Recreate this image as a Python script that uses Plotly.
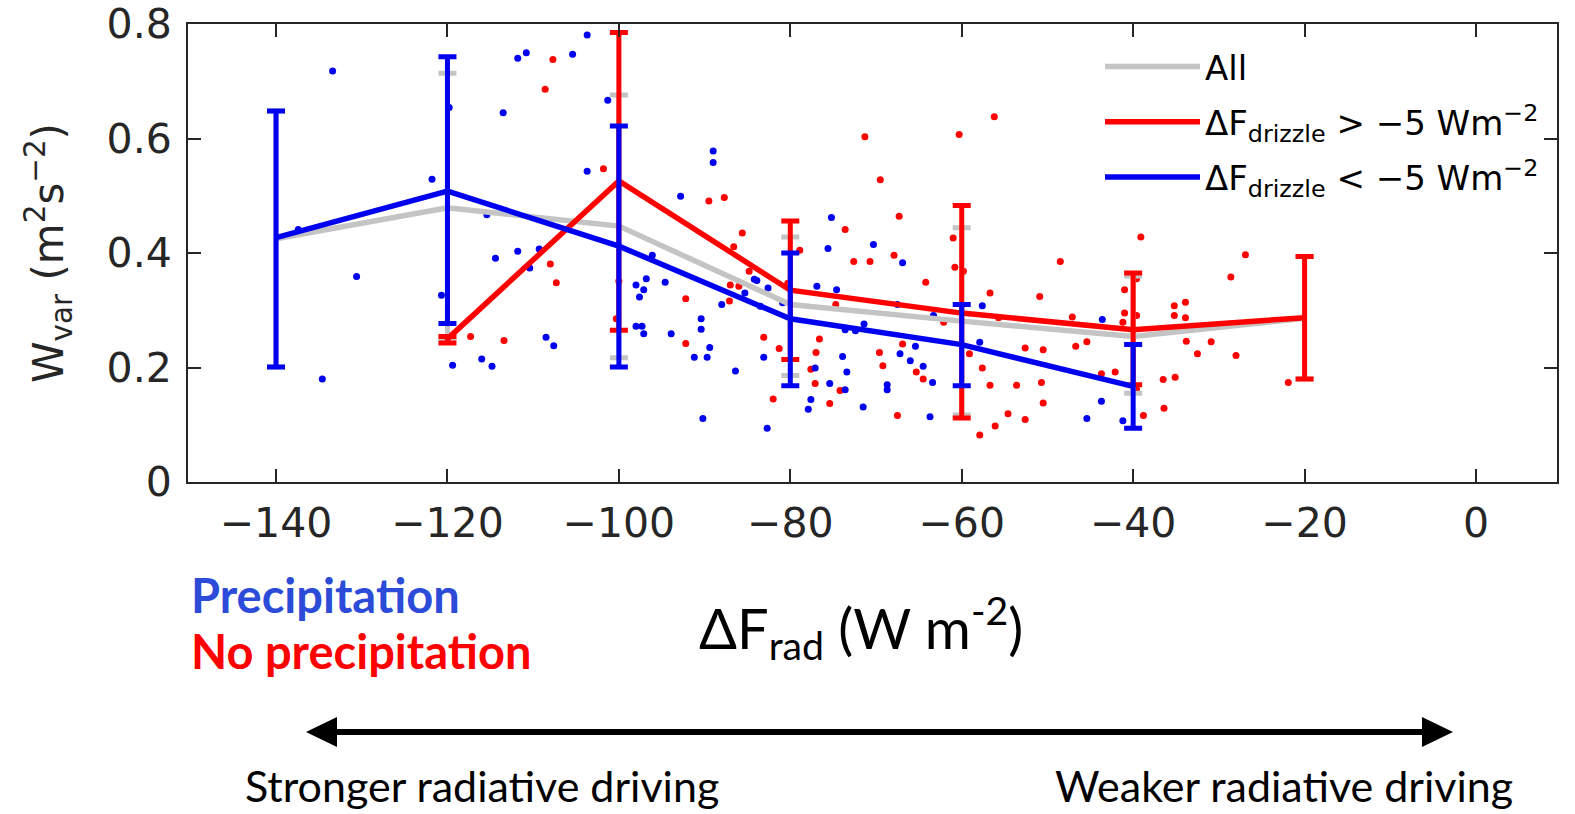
import plotly.graph_objects as go

# binned means and error-bar ends
bin_x = [-140, -120, -100, -80, -60, -40, -20]
all_mean = [0.425, 0.479, 0.447, 0.310, 0.281, 0.254, 0.286]
all_hi = [0.648, 0.714, 0.676, 0.428, 0.444, 0.360, 0.394]
all_lo = [0.201, 0.250, 0.217, 0.186, 0.117, 0.155, 0.180]

red_x = [-120, -100, -80, -60, -40, -20]
red_mean = [0.250, 0.526, 0.335, 0.295, 0.266, 0.287]
red_hi = [0.254, 0.785, 0.456, 0.483, 0.365, 0.394]
red_lo = [0.243, 0.265, 0.214, 0.112, 0.170, 0.180]

blue_x = [-140, -120, -100, -80, -60, -40]
blue_mean = [0.427, 0.508, 0.412, 0.285, 0.240, 0.167]
blue_hi = [0.648, 0.743, 0.622, 0.400, 0.310, 0.240]
blue_lo = [0.201, 0.277, 0.201, 0.168, 0.168, 0.094]

# individual samples
blue_dots_x = [-133.4, -111.8, -110.8, -105.4, -103.7, -113.5, -101.3, -119.8, -121.8, -103.7,
               -137.4, -115.4, -114.4, -111.8, -109.3, -110.4, -130.6, -120.7, -108.5, -107.6,
               -116.0, -119.4, -114.8, -134.6,
               -89.0, -89.0, -92.8, -96.1, -96.8, -98.0, -97.1, -97.6, -94.6, -98.0,
               -97.3, -97.1, -93.9, -90.4, -90.4, -89.4, -91.2, -89.7, -86.4, -90.2,
               -83.1, -82.7, -88.0, -85.3, -84.2, -83.9, -82.6, -80.9, -83.5, -76.9,
               -74.6, -75.2, -75.6, -70.3, -66.9, -67.5, -63.3, -57.6, -57.9, -73.6,
               -72.4, -71.4, -77.1, -73.9, -73.4, -73.6, -75.4, -77.6, -77.9, -71.5,
               -68.7, -68.7, -67.2, -66.0, -65.4, -64.5, -63.4, -63.7,
               -43.6, -43.7, -45.4, -41.2]
blue_dots_y = [0.718, 0.740, 0.750, 0.747, 0.781, 0.645, 0.667, 0.654, 0.529, 0.543,
               0.441, 0.467, 0.391, 0.403, 0.407, 0.374, 0.359, 0.326, 0.253, 0.238,
               0.215, 0.204, 0.202, 0.180,
               0.578, 0.558, 0.499, 0.396, 0.355, 0.344, 0.336, 0.323, 0.349, 0.272,
               0.272, 0.259, 0.259, 0.285, 0.267, 0.235, 0.218, 0.218, 0.194, 0.111,
               0.218, 0.094, 0.310, 0.330, 0.354, 0.352, 0.339, 0.313, 0.307, 0.342,
               0.336, 0.462, 0.408, 0.415, 0.383, 0.310, 0.291, 0.308, 0.244, 0.266,
               0.264, 0.276, 0.199, 0.219, 0.192, 0.161, 0.172, 0.144, 0.127, 0.131,
               0.170, 0.161, 0.224, 0.212, 0.237, 0.202, 0.174, 0.114,
               0.284, 0.141, 0.111, 0.107]

red_dots_x = [-107.7, -108.6, -101.8, -108.0, -107.3, -100.0, -100.3, -117.3, -113.4,
              -71.3, -60.3, -56.2, -69.5, -67.3, -73.6, -72.6, -70.7, -67.9, -61.0,
              -60.8, -59.8, -64.2, -56.7, -50.9, -55.7, -62.1, -59.1, -66.9, -69.6,
              -69.2, -65.3, -64.5, -57.6, -56.7, -53.6, -50.7, -50.5, -52.6, -50.5,
              -54.6, -52.6, -56.1, -57.9, -67.5, -75.4, -74.2, -77.1, -77.0, -76.6,
              -77.6, -74.7, -81.3, -83.1, -82.0, -78.9, -80.3, -85.6, -86.6, -87.7,
              -89.5, -84.8, -87.0, -86.0, -87.1, -92.2, -92.2,
              -39.1, -26.9, -48.5, -28.6, -41.0, -39.6, -41.0, -39.6, -41.2, -47.1,
              -35.2, -33.9, -35.2, -33.9, -46.7, -45.4, -33.8, -30.9, -32.5, -28.0,
              -43.7, -42.1, -36.5, -35.1, -39.6, -36.4, -38.8, -21.9]
red_dots_y = [0.738, 0.686, 0.547, 0.381, 0.348, 0.351, 0.285, 0.254, 0.247,
              0.603, 0.607, 0.638, 0.528, 0.464, 0.441, 0.385, 0.385, 0.396, 0.426,
              0.375, 0.368, 0.349, 0.330, 0.324, 0.287, 0.279, 0.224, 0.241, 0.226,
              0.203, 0.192, 0.180, 0.199, 0.169, 0.169, 0.174, 0.138, 0.234, 0.231,
              0.119, 0.109, 0.098, 0.082, 0.116, 0.137, 0.160, 0.172, 0.226, 0.250,
              0.197, 0.310, 0.233, 0.253, 0.145, 0.405, 0.347, 0.435, 0.411, 0.497,
              0.491, 0.368, 0.344, 0.342, 0.316, 0.320, 0.242,
              0.428, 0.397, 0.385, 0.358, 0.336, 0.355, 0.295, 0.291, 0.279, 0.288,
              0.308, 0.314, 0.291, 0.287, 0.237, 0.245, 0.246, 0.245, 0.224, 0.221,
              0.189, 0.192, 0.179, 0.183, 0.161, 0.129, 0.116, 0.174]

x_ticks = [-140, -120, -100, -80, -60, -40, -20, 0]
y_ticks = [0, 0.2, 0.4, 0.6, 0.8]

RED = '#ff0000'
BLUE = '#0000f0'
GREY = '#c4c4c4'
INK = '#262626'


def err(mean, hi, lo):
    return [h - m for m, h in zip(mean, hi)], [m - l for m, l in zip(mean, lo)]


fig = go.Figure()

fig.add_trace(go.Scatter(x=red_dots_x, y=red_dots_y, mode='markers', showlegend=False,
                         marker=dict(color=RED, size=7)))
fig.add_trace(go.Scatter(x=blue_dots_x, y=blue_dots_y, mode='markers', showlegend=False,
                         marker=dict(color=BLUE, size=7)))

for name, xs, mean, hi, lo, col in [
    ('All', bin_x, all_mean, all_hi, all_lo, GREY),
    ('ΔF<sub>drizzle</sub> &gt; −5 Wm<sup>−2</sup>', red_x, red_mean, red_hi, red_lo, RED),
    ('ΔF<sub>drizzle</sub> &lt; −5 Wm<sup>−2</sup>', blue_x, blue_mean, blue_hi, blue_lo, BLUE),
]:
    plus, minus = err(mean, hi, lo)
    fig.add_trace(go.Scatter(
        x=xs, y=mean, mode='lines', name=name, legendgroup=name,
        line=dict(color=col, width=5.5),
        error_y=dict(type='data', array=plus, arrayminus=minus, symmetric=False,
                     color=col, thickness=5, width=9),
    ))

# plot area in pixels
L, R, T, B = 188, 18, 24, 332
W, H = 1575, 814
PW, PH = W - L - R, H - T - B


def px(x):
    return (x - L) / PW


def py(y):
    return (H - B - y) / PH


# double-headed arrow under the chart
ay = 732
shapes = [
    dict(type='line', xref='paper', yref='paper', x0=px(330), x1=px(1428), y0=py(ay), y1=py(ay),
         line=dict(color='black', width=6)),
    dict(type='path', xref='paper', yref='paper', fillcolor='black', line=dict(width=0),
         path=f'M {px(306)} {py(ay)} L {px(337)} {py(ay - 15)} L {px(337)} {py(ay + 15)} Z'),
    dict(type='path', xref='paper', yref='paper', fillcolor='black', line=dict(width=0),
         path=f'M {px(1453)} {py(ay)} L {px(1422)} {py(ay - 15)} L {px(1422)} {py(ay + 15)} Z'),
]

CAL = 'Lato'
annotations = [
    dict(text='<b>Precipitation</b>', x=px(190), y=py(595), xanchor='left', yanchor='middle',
         font=dict(family=CAL, size=47, color='#2b4bd8')),
    dict(text='<b>No precipitation</b>', x=px(190), y=py(651), xanchor='left', yanchor='middle',
         font=dict(family=CAL, size=47, color='#ff0000')),
    dict(text='ΔF<sub>rad</sub> (W m<sup>-2</sup>)', x=px(861), y=py(627), xanchor='center', yanchor='middle',
         font=dict(family=CAL, size=56, color='black')),
    dict(text='Stronger radiative driving', x=px(482), y=py(785), xanchor='center', yanchor='middle',
         font=dict(family=CAL, size=43, color='black')),
    dict(text='Weaker radiative driving', x=px(1284), y=py(785), xanchor='center', yanchor='middle',
         font=dict(family=CAL, size=43, color='black')),
]
for a in annotations:
    a.update(xref='paper', yref='paper', showarrow=False, borderpad=0)

fig.update_layout(
    width=W, height=H,
    margin=dict(l=L, r=R, t=T, b=B),
    plot_bgcolor='white', paper_bgcolor='white',
    font=dict(family='DejaVu Sans', color=INK),
    shapes=shapes, annotations=annotations,
    legend=dict(x=px(1100), y=py(38), xanchor='left', yanchor='top',
                bgcolor='white', borderwidth=0, itemwidth=95,
                font=dict(family='DejaVu Sans', size=34, color='black'),
                tracegroupgap=8),
)
fig.update_xaxes(
    range=[-150.27, 9.45], tickvals=x_ticks, automargin=False,
    ticks='inside', ticklen=13, tickwidth=2, tickcolor=INK, ticklabelstandoff=4,
    showline=True, linewidth=2, linecolor=INK, mirror='ticks',
    showgrid=False, zeroline=False,
    tickfont=dict(family='DejaVu Sans', size=41, color=INK),
)
fig.update_yaxes(
    range=[0, 0.8], tickvals=y_ticks, ticktext=['0', '0.2', '0.4', '0.6', '0.8'],
    automargin=False,
    ticks='inside', ticklen=13, tickwidth=2, tickcolor=INK, ticklabelstandoff=6,
    showline=True, linewidth=2, linecolor=INK, mirror='ticks',
    showgrid=False, zeroline=False,
    tickfont=dict(family='DejaVu Sans', size=41, color=INK),
    title=dict(text='W<sub>var</sub> (m<sup>2</sup>s<sup>−2</sup>)',
               font=dict(family='DejaVu Sans', size=42, color=INK), standoff=30),
)

# drop the browser's default 8px body margin so the figure sits at the page corner
fig.write_html('out.html', config={'displayModeBar': False},
               post_script="document.body.style.margin='0';")
